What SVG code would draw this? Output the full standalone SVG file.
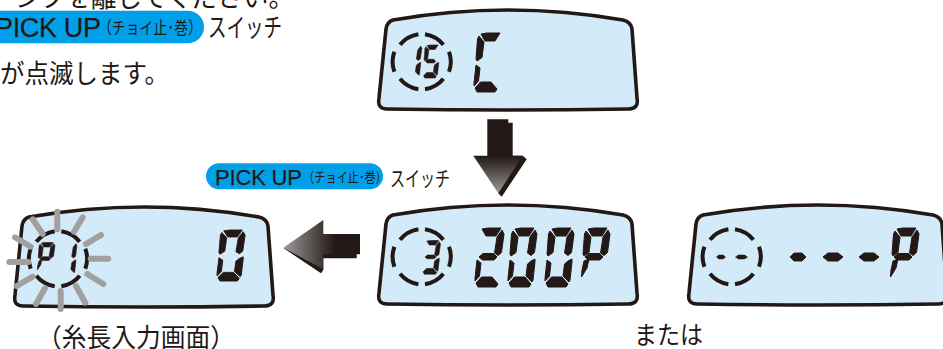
<svg xmlns="http://www.w3.org/2000/svg" width="943" height="349" viewBox="0 0 943 349">
<style>
text{font-family:"Noto Sans CJK JP","Liberation Sans",sans-serif;fill:#231815}
.lat{font-family:"Liberation Sans","Noto Sans CJK JP",sans-serif;stroke:#231815;stroke-width:.25}
.lcd{fill:#d3ebf9;stroke:#231815;stroke-width:3.6;stroke-linejoin:round}
.ring{fill:none;stroke:#231815;stroke-width:4}
.seg{fill:#231815;stroke:#231815;stroke-width:1;stroke-linejoin:round}
.ray{stroke:#a0a0a0;stroke-width:6;stroke-linecap:round}
.pill{fill:#00a0e9}
.sh{fill:#231815}
</style>
<defs>
<linearGradient id="gd" gradientUnits="userSpaceOnUse" x1="0" y1="119" x2="0" y2="193"><stop offset="0.5" stop-color="#231815"/><stop offset="1" stop-color="#999"/></linearGradient>
<linearGradient id="gl" gradientUnits="userSpaceOnUse" x1="284" y1="0" x2="335" y2="0"><stop offset="0" stop-color="#999"/><stop offset="1" stop-color="#231815"/></linearGradient>
<path id="body" class="lcd" d="M393,215 Q508,195 623,215 Q631,217 632,224 L637,293 Q639,304 628,304 Q508,306 387,304 Q377,304 379,293 L386,224 Q387,217 393,215Z"/>
<path id="ring" class="ring" d="M-27.3,-10 A29,29 0 0 0 -27.3,10 M-21.7,-17 A29,27 0 0 1 -3.3,-27.5 M3.3,-27.5 A29,27 0 0 1 21.7,-17 M27.3,-10 A29,29 0 0 1 27.3,10 M21.7,17 A29,27 0 0 1 3.3,27.5 M-3.3,27.5 A29,27 0 0 1 -21.7,17"/>
<polygon id="a" class="seg" points="7,1 13,0 26,0 21,8 11,8"/>
<polygon id="b" class="seg" points="27,2 29,6 26.5,24.5 23,27.5 19.5,25 22,9"/>
<polygon id="f" class="seg" points="5,3 10,9 8,24.5 3,28 2,26 3.5,6"/>
<polygon id="g" class="seg" points="4,29 8,25.5 18.5,25.5 22,29 19,32 7.5,32"/>
<polygon id="e" class="seg" points="2,32 6,35 4.5,48 0,53 0,50"/>
<polygon id="c" class="seg" points="23,33 27,31 27,34 25,52 24,54 18,48 19.5,36"/>
<polygon id="d" class="seg" points="1,55 6.5,49 17,49 23,56 21,59 3,59"/>
<polygon id="t" class="seg" points="3,33 8,31 6,40 0.5,49 1,42"/>
<g id="d0"><use href="#a"/><use href="#b"/><use href="#c"/><use href="#d"/><use href="#e"/><use href="#f"/></g>
<g id="d1"><use href="#b"/><use href="#c"/></g>
<g id="d2"><use href="#a"/><use href="#b"/><use href="#g"/><use href="#e"/><use href="#d"/></g>
<g id="d3"><use href="#a"/><use href="#b"/><use href="#g"/><use href="#c"/><use href="#d"/></g>
<g id="d5"><use href="#a"/><use href="#f"/><use href="#g"/><use href="#c"/><use href="#d"/></g>
<g id="dP"><use href="#a"/><use href="#b"/><use href="#f"/><use href="#g"/><use href="#t"/></g>
<g id="dC"><use href="#a"/><use href="#f"/><use href="#e"/><use href="#d"/></g>
<polygon id="dash" class="seg" points="0,4 5,0 15,0 20,4 15,8 5,8"/>
</defs>

<g id="intro-text">
<text x="15" y="7" font-size="26" textLength="279" lengthAdjust="spacingAndGlyphs">ンプを離してください。</text>
<rect class="pill" x="-20" y="10.7" width="224" height="32.6" rx="16.3"/>
<text class="lat" x="-5" y="37" font-size="27" textLength="106">PICK UP</text>
<text x="98" y="34" font-size="17" textLength="104" lengthAdjust="spacingAndGlyphs">（チョイ止･巻）</text>
<text x="208" y="37" font-size="26" textLength="74" lengthAdjust="spacingAndGlyphs">スイッチ</text>
<text x="0" y="83" font-size="26" textLength="169" lengthAdjust="spacingAndGlyphs">が点滅します。</text>
</g>

<g id="display-15">
<use href="#body" transform="translate(0,-195)"/>
<use href="#ring" transform="translate(421.7,61.7)"/>
<use href="#d1" transform="translate(405,45) scale(.58,.56)"/>
<use href="#d5" transform="translate(423,45) scale(.58,.56)"/>
<use href="#dC" transform="translate(474,33)"/>
</g>

<g id="pickup-label">
<rect class="pill" x="206" y="163.3" width="177" height="26" rx="13"/>
<text class="lat" x="215" y="185" font-size="22" textLength="87">PICK UP</text>
<text x="303" y="182" font-size="14" textLength="84" lengthAdjust="spacingAndGlyphs">（チョイ止･巻）</text>
<text x="390" y="186" font-size="21" textLength="60" lengthAdjust="spacingAndGlyphs">スイッチ</text>
</g>

<g id="display-200P">
<use href="#body"/>
<use href="#ring" transform="translate(421.7,256.7)"/>
<use href="#d3" transform="translate(422.5,240.5) scale(.62,.57)"/>
<use href="#d2" transform="translate(475,228)"/>
<use href="#d0" transform="translate(508,228)"/>
<use href="#d0" transform="translate(545,228)"/>
<use href="#dP" transform="translate(581,228)"/>
</g>

<g id="display-dashes">
<use href="#body" transform="translate(310,0)"/>
<use href="#ring" transform="translate(731.7,256.7)"/>
<use href="#dash" transform="translate(716.5,255) scale(.45,.5)"/>
<use href="#dash" transform="translate(735.5,255) scale(.6,.5)"/>
<use href="#dash" transform="translate(790,253) scale(.8,1)"/>
<use href="#dash" transform="translate(823,253)"/>
<use href="#dash" transform="translate(859,253)"/>
<use href="#dP" transform="translate(890,228)"/>
<text x="634" y="344" font-size="25" textLength="69" lengthAdjust="spacingAndGlyphs">または</text>
</g>

<g id="display-P1">
<use href="#body" transform="translate(-364,2)"/>
<use href="#ring" transform="translate(58,258.7)"/>
<use href="#dP" transform="translate(37,242.5) scale(.62,.56)"/>
<use href="#d1" transform="translate(61,242.5) scale(.55,.56)"/>
<use href="#d0" transform="translate(217,230) scale(.97,.865)"/>
<g>
<line class="ray" x1="57.3" y1="211.7" x2="57.3" y2="229.3"/>
<line class="ray" x1="82.7" y1="217.3" x2="74" y2="231.7"/>
<line class="ray" x1="101" y1="235" x2="86" y2="244"/>
<line class="ray" x1="108.3" y1="258.7" x2="90.7" y2="258.7"/>
<line class="ray" x1="103.3" y1="284" x2="87.3" y2="274"/>
<line class="ray" x1="85.3" y1="302.7" x2="76" y2="286"/>
<line class="ray" x1="60.7" y1="309" x2="60.7" y2="291"/>
<line class="ray" x1="36" y1="304" x2="45" y2="288.3"/>
<line class="ray" x1="16.7" y1="286" x2="32.7" y2="276.7"/>
<line class="ray" x1="9.3" y1="262" x2="28.3" y2="262"/>
<line class="ray" x1="15" y1="237.3" x2="30.7" y2="246.7"/>
<line class="ray" x1="32.7" y1="219.3" x2="42.7" y2="234"/>
</g>
<text x="37" y="347" font-size="26" textLength="198" lengthAdjust="spacingAndGlyphs">（糸長入力画面）</text>
</g>

<g id="connectors">
<polygon class="sh" points="508,122.7 512.7,122.7 512.7,155.7 522.7,155.7 526.7,159.3 501.7,196.7 498,193"/>
<polygon fill="url(#gd)" points="487.3,119.3 508.3,119.3 508.3,155.7 522.7,155.7 498.3,193.3 473.3,155.7 487.3,155.7"/>
<polygon class="sh" points="283.3,248 321,273.3 323.3,270 323.3,258.3 356.7,258.3 356.7,250"/>
<polygon fill="url(#gl)" points="283.3,247.7 323.3,220 323.3,234 360,234 360,254.3 323.3,254.3 323.3,269.3"/>
</g>
</svg>
